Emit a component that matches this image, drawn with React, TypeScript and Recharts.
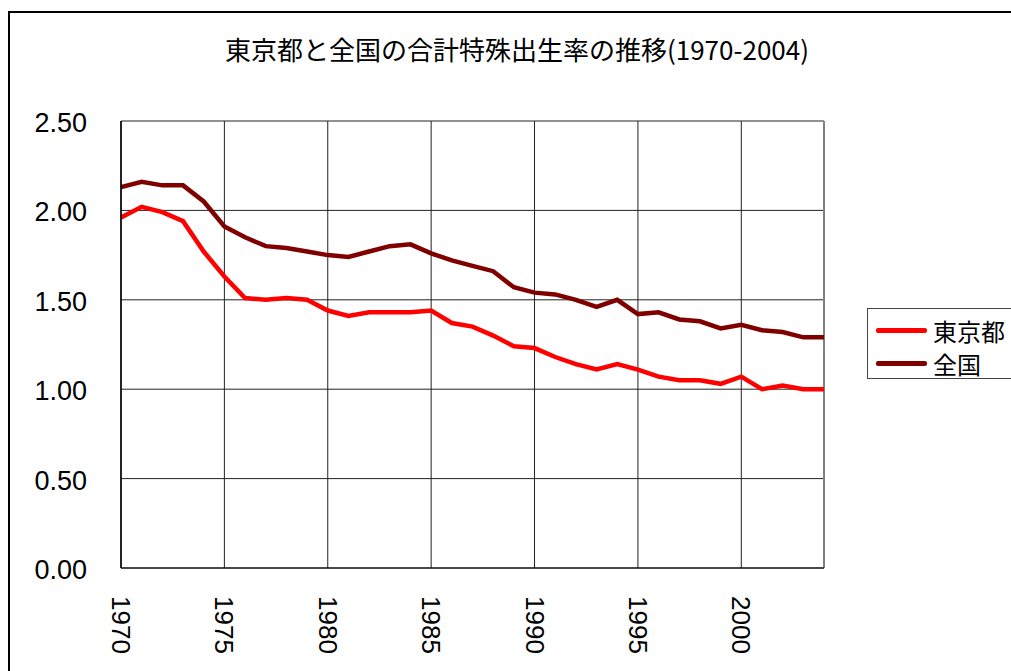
import React from 'react';
import { LineChart, Line, XAxis, YAxis, CartesianGrid, Legend, ReferenceLine } from 'recharts';

const years = [1970,1971,1972,1973,1974,1975,1976,1977,1978,1979,1980,1981,1982,1983,1984,1985,1986,1987,1988,1989,1990,1991,1992,1993,1994,1995,1996,1997,1998,1999,2000,2001,2002,2003,2004];
const tokyo = [1.96,2.02,1.99,1.94,1.77,1.63,1.51,1.50,1.51,1.50,1.44,1.41,1.43,1.43,1.43,1.44,1.37,1.35,1.30,1.24,1.23,1.18,1.14,1.11,1.14,1.11,1.07,1.05,1.05,1.03,1.07,1.00,1.02,1.00,1.00];
const national = [2.13,2.16,2.14,2.14,2.05,1.91,1.85,1.80,1.79,1.77,1.75,1.74,1.77,1.80,1.81,1.76,1.72,1.69,1.66,1.57,1.54,1.53,1.50,1.46,1.50,1.42,1.43,1.39,1.38,1.34,1.36,1.33,1.32,1.29,1.29];
const xTicks = [1970,1975,1980,1985,1990,1995,2000];
const yTicks = [0,0.5,1,1.5,2,2.5];
const title = '東京都と全国の合計特殊出生率の推移(1970-2004)';
const seriesNames = ['東京都', '全国'];
const seriesColors = ['#ff0000', '#800000'];

const data = years.map((y, i) => ({ year: y, tokyo: tokyo[i], national: national[i] }));

const XTick = (props: any) => {
  const { x, y, payload } = props;
  return (
    <text transform={`translate(${x},${y + 28}) rotate(90)`} textAnchor="start" dominantBaseline="central"
      fontFamily="'Liberation Sans', Arial, sans-serif" fontSize={26} fill="#000">
      {payload.value}
    </text>
  );
};

const YTick = (props: any) => {
  const { x, y, payload } = props;
  return (
    <text x={x} y={y + 2} textAnchor="end" dominantBaseline="central"
      fontFamily="'Liberation Sans', Arial, sans-serif" fontSize={27} fill="#000">
      {Number(payload.value).toFixed(2)}
    </text>
  );
};

const LegendContent = () => (
  <div style={{ width: 170, height: 71, border: '1px solid #444', background: '#fff', boxSizing: 'border-box', paddingTop: 5 }}>
    {seriesNames.map((n, i) => (
      <div key={n} style={{ display: 'flex', alignItems: 'center', height: 33 }}>
        <div style={{ width: 51, height: 5, background: seriesColors[i], marginLeft: 8, marginRight: 6, borderRadius: 2 }} />
        <span style={{ fontFamily: "'Noto Sans CJK JP', sans-serif", fontSize: 24, color: '#000', lineHeight: '33px' }}>{n}</span>
      </div>
    ))}
  </div>
);

export default function App() {
  return (
    <div style={{ position: 'absolute', left: 0, top: 0, width: 1011, height: 671, overflow: 'hidden', background: '#fff' }}>
      <div style={{ position: 'absolute', left: 8, top: 11, width: 1200, height: 900, border: '2px solid #000' }} />
      <div style={{ position: 'absolute', left: 0, top: 32, width: 1034, textAlign: 'center', fontFamily: "'Noto Sans CJK JP', sans-serif", fontSize: 26, color: '#000', lineHeight: '34px' }}>
        {title}
      </div>
      <div style={{ position: 'absolute', left: 0, top: 0 }}>
        <LineChart width={1011} height={671} data={data} margin={{ top: 121, right: 17, bottom: 0, left: 0 }}>
          <CartesianGrid stroke="#222" strokeWidth={1} />
          <XAxis dataKey="year" type="number" domain={[1970, 2004]} ticks={xTicks} height={103}
            tick={<XTick />} tickLine={false} tickSize={0} tickMargin={0} axisLine={{ stroke: '#000' }} />
          <YAxis type="number" domain={[0, 2.5]} ticks={yTicks} width={121}
            tick={<YTick />} tickLine={false} tickSize={0} tickMargin={34} axisLine={{ stroke: '#000', strokeWidth: 1.5 }} />
          <ReferenceLine x={2004} stroke="#808080" strokeWidth={2} />
          <Legend layout="vertical" align="right" verticalAlign="top" content={<LegendContent />}
            wrapperStyle={{ position: 'absolute', left: 867, top: 308, width: 170 }} />
          <Line type="linear" dataKey="tokyo" name={seriesNames[0]} stroke={seriesColors[0]} strokeWidth={4.5} dot={false} isAnimationActive={false} />
          <Line type="linear" dataKey="national" name={seriesNames[1]} stroke={seriesColors[1]} strokeWidth={4.5} dot={false} isAnimationActive={false} />
        </LineChart>
      </div>
    </div>
  );
}
